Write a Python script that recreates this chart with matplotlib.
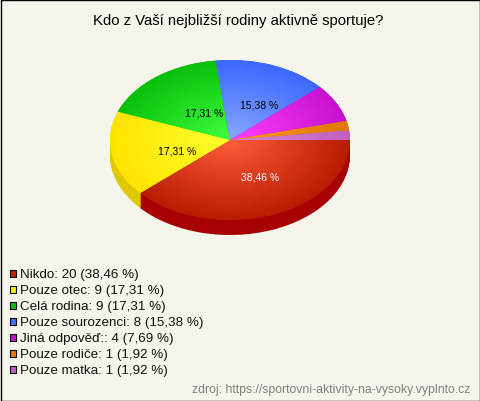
import matplotlib
matplotlib.use("Agg")
import matplotlib.pyplot as plt
import numpy as np
from matplotlib.colors import LinearSegmentedColormap, to_rgb
from matplotlib.patches import Rectangle

plt.rcParams['font.family'] = ['Liberation Sans', 'DejaVu Sans']

categories = ["Nikdo", "Pouze otec", "Celá rodina", "Pouze sourozenci", "Jiná odpověď:", "Pouze rodiče", "Pouze matka"]
counts = [20, 9, 9, 8, 4, 1, 1]
shares = ["38,46", "17,31", "17,31", "15,38", "7,69", "1,92", "1,92"]
title = "Kdo z Vaší nejbližší rodiny aktivně sportuje?"
source = "zdroj: https://sportovni-aktivity-na-vysoky.vyplnto.cz"

inner_colors = ["#ff5c3c", "#ffff30", "#40ff40", "#88a8ff", "#ff40ff", "#ff9820", "#d888d8"]
rim_colors = ["#b81c00", "#ffe400", "#08c008", "#3c68ff", "#c810d0", "#e07800", "#c060c0"]
side_colors = ["#a80000", "#e0c800", "#08a008", "#3050d0", "#a010b0", "#c06000", "#a050a0"]
key_colors = ["#c82000", "#ffee00", "#10c010", "#4070ff", "#c810d0", "#e87c00", "#c060c0"]

W, H = 480, 402
BG = "#f5f5ec"
fig = plt.figure(figsize=(W / 100, H / 100), dpi=100, facecolor=BG)

# overlay in pixel coordinates
ov = fig.add_axes([0, 0, 1, 1], zorder=3)
ov.set_xlim(0, W)
ov.set_ylim(H, 0)
ov.axis("off")
ov.patch.set_alpha(0)

# pie axes: ellipse spans x 110..350, y 61..221
ax = fig.add_axes([110 / W, 1 - 221 / H, 240 / W, 160 / H], zorder=2)
ax.patch.set_alpha(0)
depth = 15 / 80

for d in np.linspace(depth, 0.0125, 15):
    ax.pie(counts, colors=side_colors, startangle=0, counterclock=False, radius=1,
           center=(0, -d), wedgeprops=dict(linewidth=0), frame=True)

wedges, _ = ax.pie(counts, colors=rim_colors, startangle=0, counterclock=False, radius=1,
                   center=(0, 0), wedgeprops=dict(linewidth=0), frame=True)

yy, xx = np.mgrid[-1:1:400j, -1:1:400j]
rr = np.clip(np.hypot(xx, yy), 0, 1)
for w, c0, c1 in zip(wedges, inner_colors, rim_colors):
    cmap = LinearSegmentedColormap.from_list("g", [to_rgb(c0), to_rgb(c1)])
    im = ax.imshow(rr, cmap=cmap, vmin=0, vmax=1, extent=(-1, 1, -1, 1), origin="lower",
                   aspect="auto", zorder=2, interpolation="bilinear")
    im.set_clip_path(w)

ax.set_aspect("auto")
ax.set_xlim(-1, 1)
ax.set_ylim(-1, 1)
ax.axis("off")

# title
ov.text(238.5, 21, title, ha="center", va="center", fontsize=10.7, color="black")

# slice labels
label_style = dict(ha="center", va="center", fontsize=7.5)
ov.text(260, 178, f"{shares[0]} %", color="white", **label_style)
ov.text(177, 152, f"{shares[1]} %", color="black", **label_style)
ov.text(204, 114, f"{shares[2]} %", color="black", **label_style)
ov.text(259, 106, f"{shares[3]} %", color="black", **label_style)

# legend
for i, (cat, n, s, c) in enumerate(zip(categories, counts, shares, key_colors)):
    y = 274 + i * 16
    ov.add_patch(Rectangle((9.5, y - 3.5), 6.5, 7, facecolor=c, edgecolor="black", linewidth=0.8))
    ov.text(20, y + 1, f"{cat}: {n} ({s} %)", ha="left", va="center",
            fontsize=9.6, color="#111111")

ov.text(470.5, 390, source, ha="right", va="center", fontsize=8.85, color="#808080")

# frame
ov.add_patch(Rectangle((0.5, 0.5), W - 1, H - 1, facecolor="none", edgecolor="#000000", linewidth=1))

fig.savefig("out.png", dpi=100, facecolor=BG)
